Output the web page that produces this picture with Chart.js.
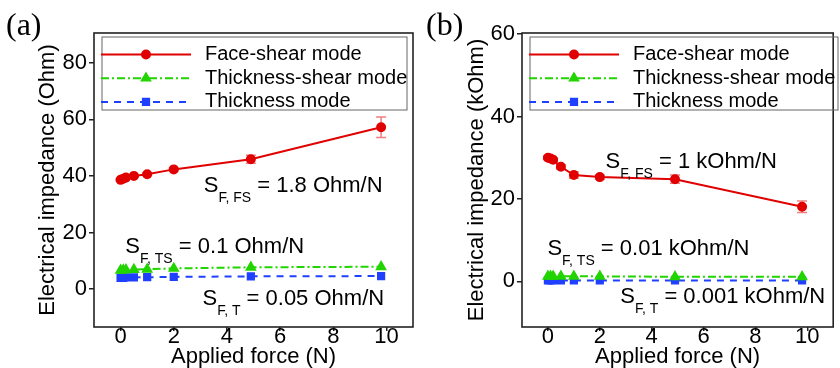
<!DOCTYPE html>
<html>
<head>
<meta charset="utf-8">
<title>Electrical impedance vs applied force</title>
<script src="https://cdn.jsdelivr.net/npm/chart.js@4.4.1/dist/chart.umd.min.js"></script>
<style>
    body { margin: 0; background: #fff; width: 840px; height: 368px; overflow: hidden; }
    .panel { position: absolute; top: 0; width: 420px; height: 368px; }
    #panelA { left: 0; }
    #panelB { left: 420px; }
</style>
</head>
<body>
<div class="panel" id="panelA"><canvas id="chartA" width="420" height="368"></canvas></div>
<div class="panel" id="panelB"><canvas id="chartB" width="420" height="368"></canvas></div>

<script>
// ====================== DATA ======================

const forceN = [0, 0.1, 0.2, 0.5, 1, 2, 4.9, 9.8];

// (a) impedance in Ohm
const faceShearOhm = [38.6, 39.0, 39.4, 40.0, 40.6, 42.3, 45.9, 57.2];
const faceShearOhmErr = [0.3, 0.3, 0.3, 0.3, 0.4, 0.4, 1.4, 3.6];
const thicknessShearOhm = [6.6, 6.7, 6.8, 6.9, 7.0, 7.3, 7.7, 7.9];
const thicknessOhm = [4.0, 4.0, 4.1, 4.1, 4.2, 4.3, 4.5, 4.6];

// (b) impedance in kOhm
const faceShearKOhm = [30.0, 29.8, 29.5, 27.8, 25.8, 25.3, 24.8, 18.1];
const faceShearKOhmErr = [0.4, 0.4, 0.4, 0.5, 0.8, 0.5, 1.0, 1.4];
const thicknessShearKOhm = [1.2, 1.2, 1.2, 1.2, 1.2, 1.2, 1.1, 1.1];
const thicknessKOhm = [0.2, 0.2, 0.2, 0.2, 0.2, 0.2, 0.2, 0.2];

const seriesNames = ["Face-shear mode", "Thickness-shear mode", "Thickness mode"];

const xTicks = [0, 2, 4, 6, 8, 10];
const yTicksA = [0, 20, 40, 60, 80];
const yTicksB = [0, 20, 40, 60];

// ====================== STYLE ======================

const FONT = "'Liberation Sans', Arial, sans-serif";
const RED = "#e00000";
const GREEN = "#22d400";
const BLUE = "#2040ff";

function points(values) {
    return forceN.map((x, i) => ({ x: x, y: values[i] }));
}

function makeDatasets(face, faceErr, tshear, thick) {
    return [
        {
            label: seriesNames[0],
            data: points(face),
            errors: faceErr,
            errorColor: "rgba(224,0,0,0.5)",
            borderColor: RED,
            backgroundColor: RED,
            borderWidth: 2,
            pointStyle: "circle",
            pointRadius: 4
        },
        {
            label: seriesNames[1],
            data: points(tshear),
            borderColor: GREEN,
            backgroundColor: GREEN,
            borderWidth: 2,
            borderDash: [8, 3, 2, 3],
            pointStyle: "triangle",
            pointRadius: 4.8
        },
        {
            label: seriesNames[2],
            data: points(thick),
            borderColor: BLUE,
            backgroundColor: BLUE,
            borderWidth: 2,
            borderDash: [7, 6],
            pointStyle: "rect",
            pointRadius: 4.4
        }
    ];
}

// ====================== PLUGINS ======================

const errorBarsPlugin = {
    id: "errorBars",
    beforeDatasetsDraw(chart) {
        const { ctx, scales: { x, y } } = chart;

        chart.data.datasets.forEach(ds => {
            if (!ds.errors) return;

            ctx.save();
            ctx.strokeStyle = ds.errorColor;
            ctx.lineWidth = 1.5;

            ds.data.forEach((p, i) => {
                const e = ds.errors[i];
                if (!e) return;

                const px = x.getPixelForValue(p.x);
                const top = y.getPixelForValue(p.y + e);
                const bot = y.getPixelForValue(p.y - e);

                ctx.beginPath();
                ctx.moveTo(px, top); ctx.lineTo(px, bot);
                ctx.moveTo(px - 5, top); ctx.lineTo(px + 5, top);
                ctx.moveTo(px - 5, bot); ctx.lineTo(px + 5, bot);
                ctx.stroke();
            });

            ctx.restore();
        });
    }
};

function drawSlope(ctx, left, midY, sub, rest) {
    ctx.textAlign = "left";
    ctx.textBaseline = "middle";
    ctx.fillStyle = "#000";

    ctx.font = `22px ${FONT}`;
    ctx.fillText("S", left, midY);
    let x = left + ctx.measureText("S").width;

    ctx.font = `14px ${FONT}`;
    ctx.fillText(sub, x, midY + 12);
    x += ctx.measureText(sub).width;

    ctx.font = `22px ${FONT}`;
    ctx.fillText(rest, x, midY);
}

const decorPlugin = {
    id: "decor",
    afterDraw(chart, args, opts) {
        const { ctx, chartArea: area, scales: { x, y } } = chart;

        ctx.save();

        // plot frame
        ctx.strokeStyle = "#222";
        ctx.lineWidth = 1.6;
        ctx.strokeRect(area.left, area.top, area.right - area.left, area.bottom - area.top);

        // legend box inside the plot
        const boxLeft = area.left + 8;
        const boxTop = area.top + 4;
        ctx.strokeStyle = "#666";
        ctx.lineWidth = 1;
        ctx.strokeRect(boxLeft, boxTop, opts.legendWidth, 73);

        chart.data.datasets.forEach((ds, i) => {
            const rowY = area.top + 21.5 + i * 23.7;

            ctx.strokeStyle = ds.borderColor;
            ctx.lineWidth = ds.borderWidth;
            ctx.setLineDash(ds.borderDash || []);
            ctx.beginPath();
            ctx.moveTo(boxLeft - 1, rowY);
            ctx.lineTo(boxLeft + 89, rowY);
            ctx.stroke();
            ctx.setLineDash([]);

            ctx.fillStyle = ds.backgroundColor;
            Chart.helpers.drawPoint(ctx, {
                pointStyle: ds.pointStyle,
                radius: ds.pointRadius,
                rotation: 0,
                borderWidth: 1
            }, boxLeft + 44, rowY);

            ctx.fillStyle = "#000";
            ctx.font = `20px ${FONT}`;
            ctx.textAlign = "left";
            ctx.textBaseline = "middle";
            ctx.fillText(ds.label, boxLeft + 103, rowY);
        });

        // slope annotations, placed in data units
        opts.notes.forEach(n => {
            drawSlope(ctx, x.getPixelForValue(n.x), y.getPixelForValue(n.y), n.sub, n.rest);
        });

        // panel tag
        ctx.fillStyle = "#000";
        ctx.font = "32px 'Liberation Serif', 'Times New Roman', serif";
        ctx.textAlign = "left";
        ctx.textBaseline = "alphabetic";
        ctx.fillText(opts.tag, 6, 35);

        ctx.restore();
    }
};

// ====================== CHARTS ======================

function createPanel(canvasId, cfg) {
    const ctx = document.getElementById(canvasId);
    if (!ctx) return;

    return new Chart(ctx, {
        type: "line",
        data: { datasets: cfg.datasets },
        options: {
            responsive: false,
            animation: false,
            layout: { padding: { top: 33, right: cfg.padRight, left: 0, bottom: 0 } },
            elements: { line: { tension: 0 } },
            plugins: {
                legend: { display: false },
                tooltip: { enabled: false },
                decor: { tag: cfg.tag, notes: cfg.notes, legendWidth: cfg.legendWidth }
            },
            scales: {
                x: {
                    type: "linear",
                    min: -1,
                    max: 11,
                    afterBuildTicks: s => { s.ticks = xTicks.map(v => ({ value: v })); },
                    afterFit: s => { s.height = 41; },
                    border: { display: false },
                    grid: { drawOnChartArea: false, tickLength: 4, color: "#222", lineWidth: 1.5 },
                    ticks: { color: "#000", padding: -5, font: { family: FONT, size: 22, lineHeight: 1 } },
                    title: {
                        display: true,
                        text: "Applied force (N)",
                        color: "#000",
                        padding: 0,
                        font: { family: FONT, size: 22, lineHeight: 1 }
                    }
                },
                y: {
                    type: "linear",
                    min: cfg.yMin,
                    max: cfg.yMax,
                    afterBuildTicks: s => { s.ticks = cfg.yTicks.map(v => ({ value: v })); },
                    afterFit: s => { s.width = cfg.yWidth; },
                    border: { display: false },
                    grid: { drawOnChartArea: false, tickLength: 5, color: "#222", lineWidth: 1.5 },
                    ticks: { color: "#000", padding: 2, font: { family: FONT, size: 22 } },
                    title: {
                        display: true,
                        text: cfg.yTitle,
                        color: "#000",
                        padding: { top: cfg.yTitlePad, bottom: 0 },
                        font: { family: FONT, size: 22 }
                    }
                }
            }
        },
        plugins: [errorBarsPlugin, decorPlugin]
    });
}

createPanel("chartA", {
    tag: "(a)",
    datasets: makeDatasets(faceShearOhm, faceShearOhmErr, thicknessShearOhm, thicknessOhm),
    yMin: -13.4,
    yMax: 90.5,
    yTicks: yTicksA,
    yTitle: "Electrical impedance (Ohm)",
    yWidth: 94,
    yTitlePad: 35,
    padRight: 7,
    legendWidth: 305,
    notes: [
        { x: 3.13, y: 36.4, sub: "F, FS", rest: " = 1.8 Ohm/N" },
        { x: 0.18, y: 14.9, sub: "F, TS", rest: " = 0.1 Ohm/N" },
        { x: 3.08, y: -3.5, sub: "F, T", rest: " = 0.05 Ohm/N" }
    ]
});

createPanel("chartB", {
    tag: "(b)",
    datasets: makeDatasets(faceShearKOhm, faceShearKOhmErr, thicknessShearKOhm, thicknessKOhm),
    yMin: -11.1,
    yMax: 60.3,
    yTicks: yTicksB,
    yTitle: "Electrical impedance (kOhm)",
    yWidth: 102,
    yTitlePad: 44,
    padRight: 1,
    legendWidth: 308,
    notes: [
        { x: 2.22, y: 29.0, sub: "F, FS", rest: " = 1 kOhm/N" },
        { x: -0.02, y: 7.85, sub: "F, TS", rest: " = 0.01 kOhm/N" },
        { x: 2.79, y: -3.9, sub: "F, T", rest: " = 0.001 kOhm/N" }
    ]
});
</script>
</body>
</html>
